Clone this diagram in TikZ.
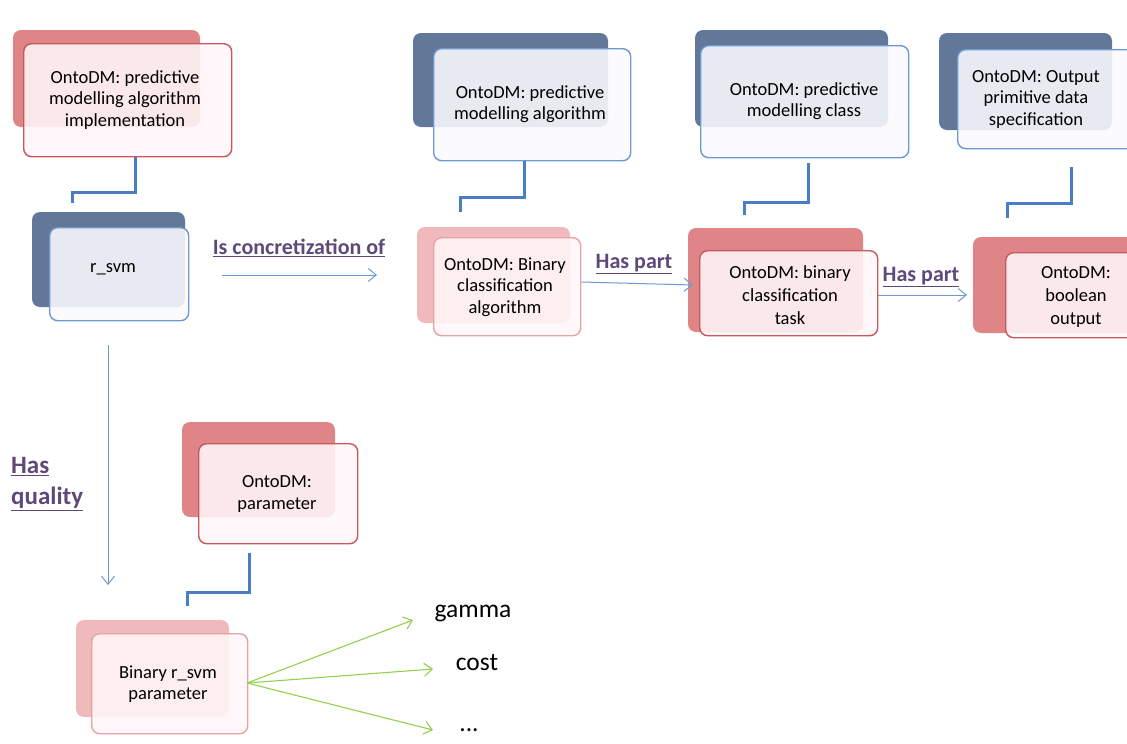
\documentclass[tikz,border=0pt]{standalone}
\usepackage{fontspec}
\setmainfont{Carlito}
\usetikzlibrary{arrows.meta,calc}

\definecolor{redbk}{HTML}{DF8487}
\definecolor{lredbk}{HTML}{F0B9BC}
\definecolor{bluebk}{HTML}{617898}
\definecolor{redln}{HTML}{C9575B}
\definecolor{lredln}{HTML}{E7A2A6}
\definecolor{blueln}{HTML}{6C99D4}
\definecolor{redtint}{HTML}{FFF6F8}
\definecolor{bluetint}{HTML}{FAFAFE}
\definecolor{elbowblue}{HTML}{4A7EC4}
\definecolor{arrowblue}{HTML}{6E98D0}
\definecolor{relpurple}{HTML}{5F497A}
\definecolor{leafgreen}{HTML}{92D050}

\tikzset{
  x=1pt, y=-1pt,
  backbox/.style={rounded corners=8pt},
  redback/.style={backbox, fill=redbk},
  lredback/.style={backbox, fill=lredbk},
  blueback/.style={backbox, fill=bluebk},
  frontbox/.style={rounded corners=8pt, line width=1.4pt, fill opacity=0.88},
  redfront/.style={frontbox, draw=redln, fill=redtint},
  lredfront/.style={frontbox, draw=lredln, fill=redtint},
  bluefront/.style={frontbox, draw=blueln, fill=bluetint},
  boxtext/.style={font=\fontsize{18.5}{21.5}\selectfont, align=center, text=black, inner sep=0pt},
  elbow/.style={draw=elbowblue, line width=3pt},
  rel/.style={draw=arrowblue, line width=1pt, -{Straight Barb[length=8pt,width=13pt,line width=1pt]}},
  relabel/.style={font=\fontsize{22}{25}\selectfont\bfseries, text=relpurple, inner sep=0pt},
  leaf/.style={draw=leafgreen, line width=1.1pt, -{Straight Barb[length=8pt,width=13pt,line width=1.1pt]}},
  leaftext/.style={font=\fontsize{25.5}{28}\selectfont, text=black, inner sep=0pt},
}

% rounded front box as a named node spanning two corners
\newcommand{\frontnode}[4]{%
  \path let \p1=#3, \p2=#4 in
    node[#1, anchor=north west, minimum width={\x2-\x1}, minimum height={\y1-\y2}, inner sep=0pt] (#2) at #3 {};%
}

\begin{document}
\begin{tikzpicture}
\useasboundingbox (0,0) rectangle (1127,744);
\clip (0,0) rectangle (1127,744);

% ---- shadow (back) boxes ----
\fill[redback]  (13,30)   rectangle (200,127);
\fill[blueback] (32,212)  rectangle (185,307);
\fill[blueback] (413,33)  rectangle (608,127);
\fill[lredback] (417,227) rectangle (570,323);
\fill[blueback] (695,30)  rectangle (888,127);
\fill[blueback] (939,33)  rectangle (1112,130);
\fill[redback]  (688,228) rectangle (863,332);
\fill[redback]  (973,237) rectangle (1140,333);
\fill[redback]  (182,422) rectangle (335,517);
\fill[lredback] (76,620)  rectangle (229,717);

% ---- front boxes ----
\frontnode{redfront}{impl}{(23,43)}{(231,156)}
\frontnode{bluefront}{rsvm}{(49,227)}{(188,320)}
\frontnode{bluefront}{pma}{(433,48)}{(630,160)}
\frontnode{lredfront}{bca}{(433,237)}{(580,335)}
\frontnode{bluefront}{pmc}{(700,45)}{(908,157)}
\frontnode{bluefront}{ops}{(957,49)}{(1140,148)}
\frontnode{redfront}{bct}{(699,250)}{(877,335)}
\frontnode{redfront}{bo}{(1005,252)}{(1140,337)}
\frontnode{redfront}{par}{(198,443)}{(357,543)}
\frontnode{lredfront}{brp}{(91,633)}{(247,733)}

% ---- box texts ----
\node[boxtext] (implT) at (125,100) {OntoDM: predictive\\modelling algorithm\\implementation};
\node[boxtext] (rsvmT) at (113,269) {r\_svm};
\node[boxtext] (pmaT)  at (530,104) {OntoDM: predictive\\modelling algorithm};
\node[boxtext] (bcaT)  at (505,287) {OntoDM: Binary\\classification\\algorithm};
\node[boxtext] (pmcT)  at (804,101) {OntoDM: predictive\\modelling class};
\node[boxtext] (opsT)  at (1036,99) {OntoDM: Output\\primitive data\\specification};
\node[boxtext, font=\fontsize{18.5}{23}\selectfont] (bctT) at (790,295) {OntoDM: binary\\classification\\task};
\node[boxtext, font=\fontsize{18.5}{23}\selectfont] (boT)  at (1076,297) {OntoDM:\\boolean\\output};
\node[boxtext] (parT)  at (277,494) {OntoDM:\\parameter};
\node[boxtext] (brpT)  at (168,684) {Binary r\_svm\\parameter};

% ---- is-a elbows ----
\coordinate (e1) at (72,203);
\coordinate (e2) at (460,212);
\coordinate (e3) at (744,215);
\coordinate (e4) at (1007,218);
\coordinate (e5) at (187,606);
\draw[elbow] (impl.south -| 135,0) |- (72,192) -- (e1);
\draw[elbow] (pma.south -| 524,0) |- (460,197) -- (e2);
\draw[elbow] (808,163) |- (744,202) -- (e3);
\draw[elbow] (1071,167) |- (1007,203) -- (e4);
\draw[elbow] (249,553) |- (187,592) -- (e5);

% ---- relations ----
\coordinate (c1) at (222,275);
\coordinate (c2) at (377,275);
\draw[rel] (c1) -- (c2);
\node[relabel] (lconc) at (299,248) {\underline{Is concretization of}};

\draw[rel] (bca.east |- 0,282) -- (693,285);
\node[relabel] (lpart1) at (634,264) {\underline{Has part}};

\draw[rel] (bct.east |- 0,295) -- (967,295);
\node[relabel] (lpart2) at (921,277) {\underline{Has part}};

\coordinate (q1) at (108,345);
\coordinate (q2) at (108,585);
\draw[rel] (q1) -- (q2);
\node[relabel, font=\fontsize{25}{31}\selectfont\bfseries, align=left, anchor=west] (lqual) at (11,484) {\underline{Has}\\\underline{quality}};

% ---- parameter leaves ----
\node[leaftext] (gamma) at (473,613) {gamma};
\node[leaftext] (cost)  at (477,663) {cost};
\node[leaftext] (more)  at (469,730) {...};
\coordinate (src) at (247,683);
\draw[leaf] (src) -- (413,620);
\draw[leaf] (src) -- (433,669);
\draw[leaf] (src) -- (433,730);
\end{tikzpicture}
\end{document}
